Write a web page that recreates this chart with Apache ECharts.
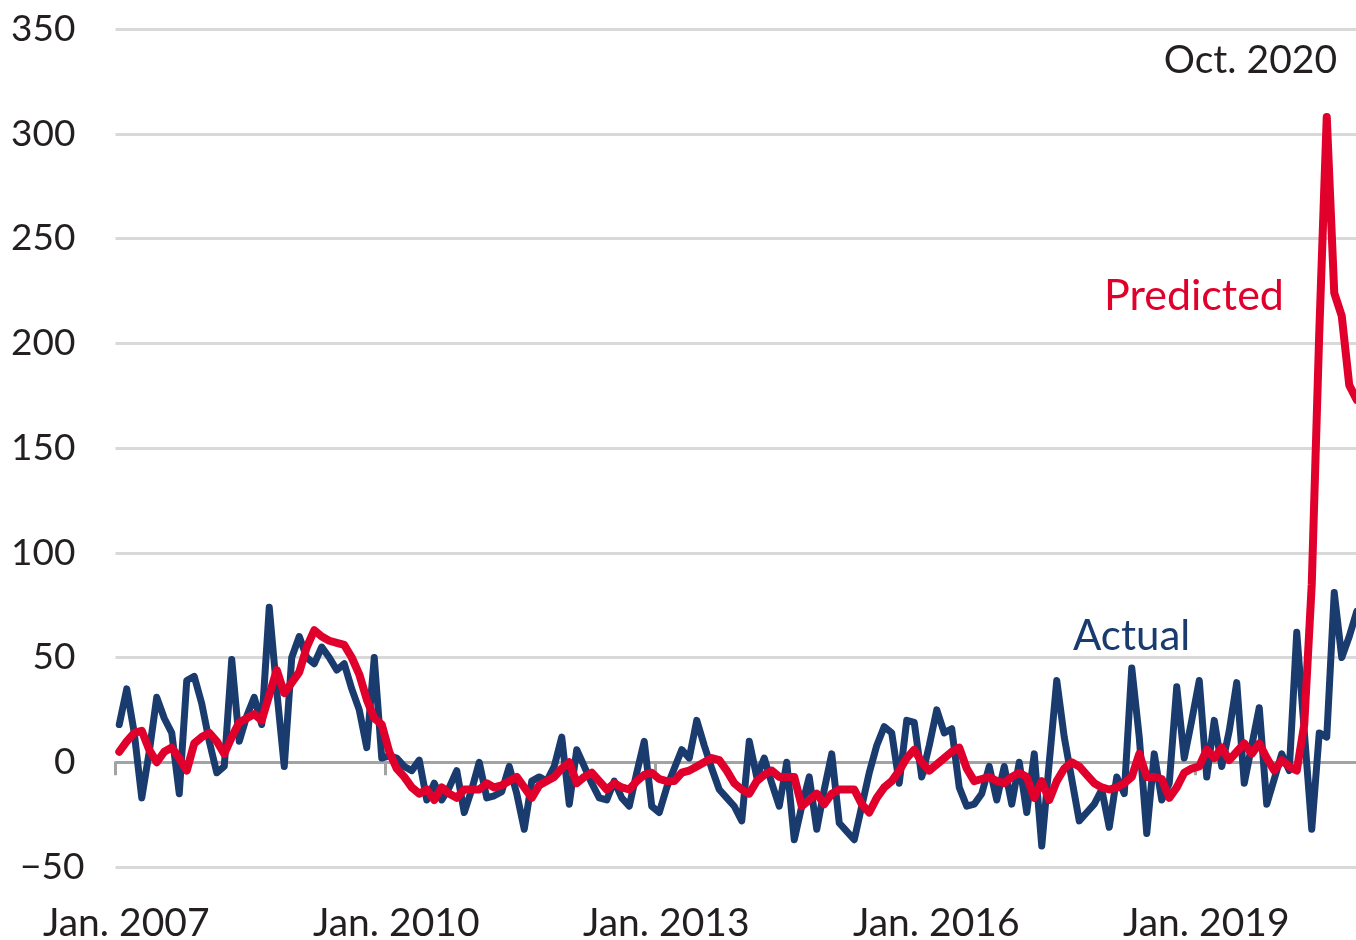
<!DOCTYPE html>
<html>
<head>
<meta charset="utf-8">
<title>Actual vs Predicted</title>
<script src="https://cdn.jsdelivr.net/npm/echarts@6/dist/echarts.min.js"></script>
<style>
    html, body { margin: 0; padding: 0; background: #fff; }
    #main { width: 1356px; height: 940px; }
</style>
</head>
<body>
<div id="main"></div>
<script>
    // monthly series, Jan. 2007 .. Oct. 2020
    var startYear = 2007;
    var monthCount = 166;
    var monthNames = ['Jan.', 'Feb.', 'Mar.', 'Apr.', 'May', 'Jun.', 'Jul.', 'Aug.', 'Sep.', 'Oct.', 'Nov.', 'Dec.'];

    var actual = [
        18, 35, 14, -17, 5, 31, 21, 14, -15, 39, 41, 28,
        10, -5, -2, 49, 10, 22, 31, 18, 74, 34, -2, 50,
        60, 50, 47, 55, 50, 44, 47, 35, 25, 7, 50, 2,
        3, 2, -2, -4, 1, -18, -10, -18, -12, -4, -24, -13,
        0, -17, -16, -14, -2, -15, -32, -9, -7, -9, -2, 12,
        -20, 6, -2, -10, -17, -18, -9, -17, -21, -5, 10, -21,
        -24, -12, -3, 6, 2, 20, 8, -3, -13, -17, -21, -28,
        10, -7, 2, -10, -21, 0, -37, -21, -7, -32, -13, 4,
        -29, -33, -37, -21, -5, 8, 17, 14, -10, 20, 19, -7,
        8, 25, 14, 16, -12, -21, -20, -15, -2, -18, -2, -20,
        0, -24, 4, -40, 0, 39, 12, -8, -28, -24, -20, -13,
        -31, -7, -15, 45, 12, -34, 4, -18, -10, 36, 2, 20,
        39, -7, 20, -2, 15, 38, -10, 8, 26, -20, -8, 4,
        -4, 62, 15, -32, 14, 12, 81, 50, 60, 72
    ];

    var predicted = [
        5, 10, 14, 15, 6, 0, 5, 7, 2, -4, 9, 12,
        14, 10, 4, 12, 19, 21, 23, 20, 32, 44, 33, 38,
        43, 55, 63, 60, 58, 57, 56, 50, 42, 30, 21, 18,
        5, -3, -7, -12, -15, -13, -18, -12, -15, -17, -13, -13,
        -13, -10, -12, -11, -9, -7, -12, -17, -11, -9, -7, -3,
        0, -10, -7, -5, -9, -13, -10, -12, -13, -9, -6, -5,
        -8, -9, -9, -5, -4, -2, 0, 2, 1, -4, -10, -13,
        -15, -9, -6, -4, -7, -7, -7, -21, -18, -15, -20, -15,
        -13, -13, -13, -20, -24, -17, -12, -9, -4, 2, 6, 0,
        -4, -1, 2, 5, 7, -3, -9, -8, -7, -9, -10, -7,
        -5, -7, -17, -9, -18, -9, -3, 0, -2, -6, -10, -12,
        -13, -12, -10, -7, 4, -7, -7, -8, -17, -12, -5, -3,
        -2, 6, 2, 7, 1, 5, 9, 4, 9, 2, -4, 1,
        -2, -4, 18, 85, 205, 308, 224, 213, 180, 173
    ];

    var yMin = -50;
    var yMax = 350;
    var yStep = 50;
    var labelEvery = 36; // a label every three years

    var months = [];
    for (var i = 0; i < monthCount; i++) {
        months.push(monthNames[i % 12] + ' ' + (startYear + Math.floor(i / 12)));
    }

    var NAVY = '#1a3b6d';
    var RED = '#e0002b';
    var INK = '#231f20';
    var FONT = 'Lato';

    function showTick(idx) {
        return idx % labelEvery === 0;
    }

    var myChart = echarts.init(document.getElementById('main'), null, {renderer: 'canvas'});
    var option = {
        animation: false,
        backgroundColor: '#fff',
        grid: {
            left: 115.5,
            top: 29,
            width: 1245,
            bottom: 73,
            outerBoundsMode: 'none'
        },
        xAxis: [
            { // zero line with the ticks
                type: 'category',
                data: months,
                boundaryGap: true,
                position: 'bottom',
                axisLine: {
                    onZero: true,
                    lineStyle: {color: '#a3a3a3', width: 3}
                },
                axisTick: {
                    show: true,
                    interval: showTick,
                    length: 13,
                    lineStyle: {color: '#a3a3a3', width: 3}
                },
                axisLabel: {show: false},
                splitLine: {show: false}
            },
            { // labels at the bottom
                type: 'category',
                data: months,
                boundaryGap: true,
                position: 'bottom',
                axisLine: {show: false, onZero: false},
                axisTick: {show: false},
                splitLine: {show: false},
                axisLabel: {
                    show: true,
                    interval: showTick,
                    margin: 37,
                    fontFamily: FONT,
                    fontSize: 39,
                    color: INK,
                    padding: [0, 0, 0, 14],
                    formatter: function (v) {
                        return v;
                    }
                }
            }
        ],
        yAxis: {
            type: 'value',
            min: yMin,
            max: yMax,
            interval: yStep,
            axisLine: {show: false},
            axisTick: {show: false},
            splitLine: {
                lineStyle: {color: '#d9d9d9', width: 3}
            },
            axisLabel: {
                margin: 31,
                fontFamily: FONT,
                fontSize: 37,
                color: INK,
                formatter: function (v) {
                    if (v < 0) {
                        return '{n|\u2212' + Math.abs(v) + '}';
                    }
                    return '{p|' + v + '}';
                },
                rich: {
                    p: {fontFamily: FONT, fontSize: 37, color: INK, padding: [0, 9, 0, 0]},
                    n: {fontFamily: FONT, fontSize: 37, color: INK}
                }
            }
        },
        series: [
            {
                name: 'Actual',
                type: 'line',
                xAxisIndex: 0,
                data: actual,
                symbol: 'none',
                z: 3,
                lineStyle: {color: NAVY, width: 7, join: 'round', cap: 'round'}
            },
            {
                name: 'Predicted',
                type: 'line',
                xAxisIndex: 0,
                data: predicted,
                symbol: 'none',
                z: 4,
                lineStyle: {color: RED, width: 8, join: 'round', cap: 'round'}
            }
        ],
        graphic: [
            {
                type: 'text', right: 19, top: 41,
                style: {text: 'Oct. 2020', fill: INK, font: '39px ' + FONT}
            },
            {
                type: 'text', left: 1104, top: 275,
                style: {text: 'Predicted', fill: RED, font: '43px ' + FONT}
            },
            {
                type: 'text', left: 1073, top: 615,
                style: {text: 'Actual', fill: NAVY, font: '42px ' + FONT}
            }
        ]
    };
    myChart.setOption(option);
</script>
</body>
</html>
